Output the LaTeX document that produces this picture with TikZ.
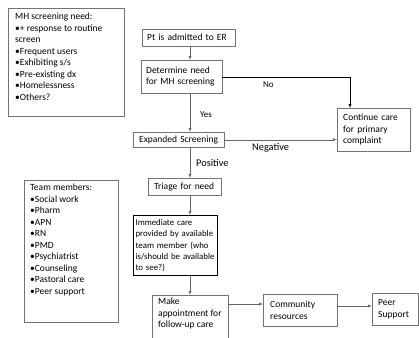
\documentclass[tikz,border=0pt]{standalone}
\usepackage{fontspec}
\setmainfont{Carlito}
\usetikzlibrary{arrows}
\tikzset{%
  box/.style={rectangle,draw=black!55,anchor=north west,align=left,
    inner xsep=5pt,inner ysep=2pt,font=\fontsize{9.5}{11.5}\selectfont},
  keybox/.style={box,draw=black,line width=1.1pt,inner xsep=2pt,
    font=\fontsize{8.8}{11.3}\selectfont},
  link/.style={draw=black!60,->,>=latex},
  lbl/.style={font=\fontsize{9}{11}\selectfont,inner sep=1pt},
  biglbl/.style={font=\fontsize{10.3}{12}\selectfont,inner sep=1pt}
}
% text block pinned to the top of a box of fixed height
\newcommand*\topbox[3]{\parbox[c][#1][t]{#2}{#3}}

\begin{document}
\begin{tikzpicture}[x=1pt,y=-1pt]
    \useasboundingbox (0,0) rectangle (419,337);
    % side notes
    \node[box,inner xsep=7pt,inner ysep=5pt] (need) at (8,8) {\topbox{98pt}{102pt}{%
        MH screening need:\\
        •+ response to routine\\
        screen\\
        •Frequent users\\
        •Exhibiting s/s\\
        •Pre-existing dx\\
        •Homelessness\\
        •Others?}};
    \node[box,inner xsep=6pt,inner ysep=4pt] (team) at (24,180) {\topbox{134pt}{82pt}{%
        Team members:\\
        •Social work\\
        •Pharm\\
        •APN\\
        •RN\\
        •PMD\\
        •Psychiatrist\\
        •Counseling\\
        •Pastoral care\\
        •Peer support}};
    % main flow
    \node[box,text width=83pt,minimum height=17pt] (pt) at (142,29) {Pt is admitted to ER};
    \node[box,text width=71pt,minimum height=33pt] (det) at (141,60) {Determine need\\for MH screening};
    \node[box,inner xsep=6pt,text width=79pt,minimum height=15pt] (exp) at (133,132) {Expanded Screening};
    \node[box,inner xsep=6pt,text width=61pt,minimum height=43pt] (cont) at (337,108) {Continue care\\for primary\\complaint};
    \node[box,inner xsep=6pt,text width=61pt,minimum height=17pt] (triage) at (148,178) {Triage for need};
    \node[keybox,text width=80pt,minimum height=60pt] (imm) at (133,215) {Immediate care\\provided by available\\team member (who\\is/should be available\\to see?)};
    \node[box,inner xsep=6pt,inner ysep=3pt] (make) at (152,295) {\topbox{44pt}{64pt}{%
        Make\\appointment for\\follow-up care}};
    \node[box,inner xsep=7pt,text width=60pt,minimum height=32pt] (comm) at (263,294) {Community\\resources};
    \node[box,inner xsep=6pt,text width=34pt,minimum height=32pt] (peer) at (372,293) {Peer\\Support};
    % connectors
    \coordinate (spine) at (190,0);
    \draw[link] (pt.south -| spine) -- (det.north -| spine);
    \draw[link] (det.south -| spine) -- node[lbl,right=9pt,pos=0.55] {Yes} (exp.north -| spine);
    \draw[link,draw=black] (det.east) -| node[lbl,below=4pt,pos=0.18] {No} ([xshift=13pt]cont.north west);
    \draw[link] (exp.east) -- node[biglbl,below=2pt,pos=0.41] {Negative} (exp.east -| cont.west);
    \draw[link] (exp.south -| spine) -- node[biglbl,right=5pt] {Positive} (triage.north -| spine);
    \draw[link] (triage.south -| spine) -- (imm.north -| spine);
    \draw[link] (imm.south -| spine) -- (make.north -| spine);
    \draw[link] ([yshift=-9pt]make.north east) coordinate (mc) -- (mc -| comm.west);
    \draw[link] ([yshift=-12pt]comm.north east) coordinate (cp) -- (cp -| peer.west);
\end{tikzpicture}
\end{document}
